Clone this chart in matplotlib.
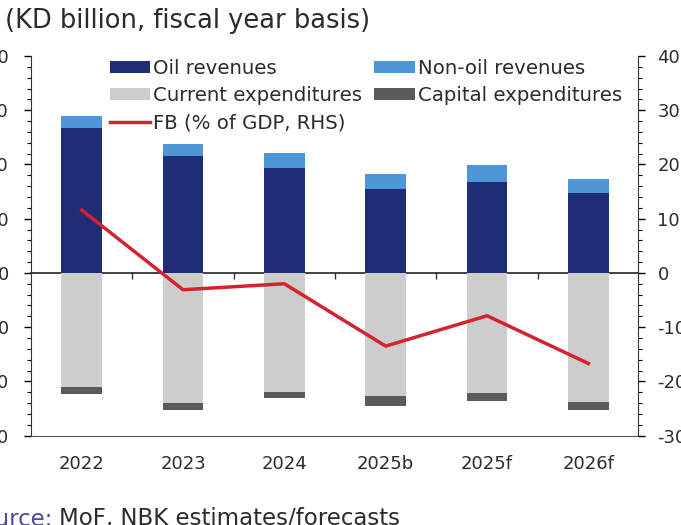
import matplotlib.pyplot as plt
import matplotlib.ticker as mticker
import numpy as np

plt.rcParams['font.family'] = ['DejaVu Sans']
plt.rcParams['axes.unicode_minus'] = False

# data (KD billion, fiscal year basis)
years = ['2022', '2023', '2024', '2025b', '2025f', '2026f']
oil_rev = [26.8, 21.6, 19.4, 15.4, 16.7, 14.7]
nonoil_rev = [2.2, 2.1, 2.8, 2.8, 3.2, 2.6]
current_exp = [-21.0, -24.0, -22.0, -22.7, -22.2, -23.8]
capital_exp = [-1.4, -1.2, -1.0, -1.8, -1.4, -1.5]
fb_gdp = [11.6, -3.1, -2.0, -13.5, -7.9, -16.7]

c_oil = '#1f2d74'
c_nonoil = '#4e95d6'
c_cur = '#cdcdcd'
c_cap = '#5b5b5b'
c_fb = '#d2232f'
txt = '#2b2b2b'

fig = plt.figure(figsize=(6.81, 5.25), dpi=100)
ax = fig.add_axes([31/681, 1 - 435.6/525, 607/681, (435.6 - 56)/525])
x = np.arange(len(years))
w = 0.40

b1 = ax.bar(x, oil_rev, w, color=c_oil, label='Oil revenues')
b2 = ax.bar(x, nonoil_rev, w, bottom=oil_rev, color=c_nonoil, label='Non-oil revenues')
b3 = ax.bar(x, current_exp, w, color=c_cur, label='Current expenditures')
b4 = ax.bar(x, capital_exp, w, bottom=current_exp, color=c_cap, label='Capital expenditures')

ax.set_xlim(-0.5, 5.49)
ax.set_ylim(-30, 40)
ax.yaxis.set_major_locator(mticker.MultipleLocator(10))
ax.yaxis.set_minor_locator(mticker.MultipleLocator(2))
ax.set_xticks(x)
ax.set_xticklabels(years, fontsize=13, color=txt)
ax.tick_params(axis='x', length=0, pad=14)
ax.tick_params(axis='y', which='major', length=5, width=1, pad=11, labelsize=13, labelcolor=txt)
ax.tick_params(axis='y', which='minor', length=3, width=0.8)
ax.spines['top'].set_visible(False)
ax.spines['right'].set_visible(False)
ax.spines['bottom'].set_color('#555555')
ax.spines['left'].set_color('#333333')

# zero line with category separators
zero = ax.secondary_xaxis(30/70)
zero.set_xticks(x[:-1] + 0.5)
zero.set_xticklabels([])
zero.tick_params(direction='out', length=4, width=1, color='#333333')
zero.spines['bottom'].set_color('#222222')
zero.spines['bottom'].set_linewidth(1.2)

ax2 = ax.twinx()
ln, = ax2.plot(x, fb_gdp, color=c_fb, lw=2.5, label='FB (% of GDP, RHS)', zorder=5)
ax2.set_ylim(-30, 40)
ax2.yaxis.set_major_locator(mticker.MultipleLocator(10))
ax2.yaxis.set_minor_locator(mticker.MultipleLocator(2))
ax2.tick_params(axis='y', which='major', length=5, width=1, pad=9, labelsize=13, labelcolor=txt)
ax2.tick_params(axis='y', which='minor', length=3, width=0.8)
for s in ['top', 'left', 'bottom']:
    ax2.spines[s].set_visible(False)
ax2.spines['right'].set_color('#333333')

handles = [b1, b3, ln, b2, b4]
labels = [h.get_label() for h in handles]
leg = ax2.legend(handles, labels, ncol=2, loc='upper left',
                 bbox_to_anchor=(110/681, 1 - 59/525), bbox_transform=fig.transFigure,
                 frameon=False, fontsize=14.2, handlelength=2.05, handleheight=0.55,
                 handletextpad=0.15, columnspacing=0.6, labelspacing=0.42,
                 borderpad=0, borderaxespad=0)
for t in leg.get_texts():
    t.set_color(txt)

fig.text(5/681, 1 - 21/525, '(KD billion, fiscal year basis)', fontsize=18.5,
         color=txt, ha='left', va='center')
fig.text(53/681, 1 - 519/525, 'Source:', fontsize=16.5, color='#4b4b9a', ha='right', va='center')
fig.text(59/681, 1 - 519/525, 'MoF, NBK estimates/forecasts', fontsize=16.5, color=txt,
         ha='left', va='center')

fig.savefig('out.png', dpi=100)
